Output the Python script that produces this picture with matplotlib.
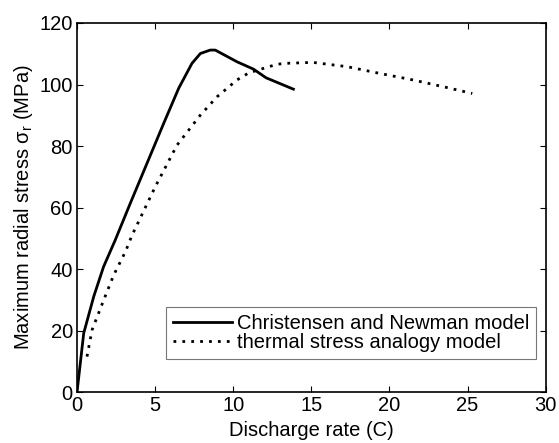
import matplotlib
matplotlib.use("Agg")
import matplotlib.pyplot as plt

plt.rcParams['font.family'] = ['Liberation Sans', 'DejaVu Sans']
plt.rcParams['mathtext.fontset'] = 'custom'
plt.rcParams['mathtext.rm'] = 'Liberation Sans'
plt.rcParams['mathtext.it'] = 'Liberation Sans'

# Christensen and Newman model
cn_rate = [0, 0.43, 1.07, 1.7, 2.45, 3.41, 4.48, 5.55, 6.51, 7.36, 7.9, 8.53, 8.85,
           10.24, 11.3, 12.1, 13.85]
cn_stress = [0, 19.2, 31.1, 40.8, 49.5, 61.4, 74.4, 87.4, 98.8, 106.9, 110.1, 111.2, 111.2,
             107.4, 105, 102.2, 98.5]

# thermal stress analogy model
ts_rate = [0.64, 0.96, 1.71, 2.35, 3.1, 3.52, 5.01, 6.4, 7.9, 8.96, 10.24, 11.0, 12.8,
           13.4, 15.1, 17.3, 19.4, 21.5, 23.7, 25.3]
ts_stress = [11.6, 20.2, 30, 38.1, 45.7, 51, 66.8, 80.3, 90.1, 96, 101.5, 103.8, 106.6,
             106.9, 107.2, 105.8, 103.6, 101.5, 99, 97.1]

fig = plt.figure(figsize=(5.59, 4.43), dpi=100)
ax = fig.add_axes([77 / 559, 1 - 392.3 / 443, (545.7 - 77) / 559, (392.3 - 23) / 443])

ax.plot(cn_rate, cn_stress, color='black', lw=2.0, label='Christensen and Newman model')
ax.plot(ts_rate, ts_stress, color='black', lw=2.0, linestyle=(0, (1, 2.2)),
        label='thermal stress analogy model')

ax.set_xlim(0, 30)
ax.set_ylim(0, 120)
ax.set_xticks(range(0, 31, 5))
ax.set_yticks(range(0, 121, 20))
ax.tick_params(direction='in', top=True, right=True, labelsize=14.5, length=4, width=0.8, pad=3)
for s in ax.spines.values():
    s.set_linewidth(1.2)

ax.set_xlabel('Discharge rate (C)', fontsize=14.5, labelpad=4)
ax.set_ylabel(r'Maximum radial stress $\sigma_r$ (MPa)', fontsize=14.5, labelpad=3)

leg = ax.legend(loc='lower right', bbox_to_anchor=(1 - 9.7 / 468.7, 33 / 369.3),
                fontsize=14.5, frameon=True, fancybox=False, handlelength=2.9,
                handletextpad=0.25, borderpad=0.35, labelspacing=0.0, borderaxespad=0)
leg.get_frame().set_edgecolor('#555555')
leg.get_frame().set_linewidth(0.8)

fig.savefig('out.png', dpi=100)
